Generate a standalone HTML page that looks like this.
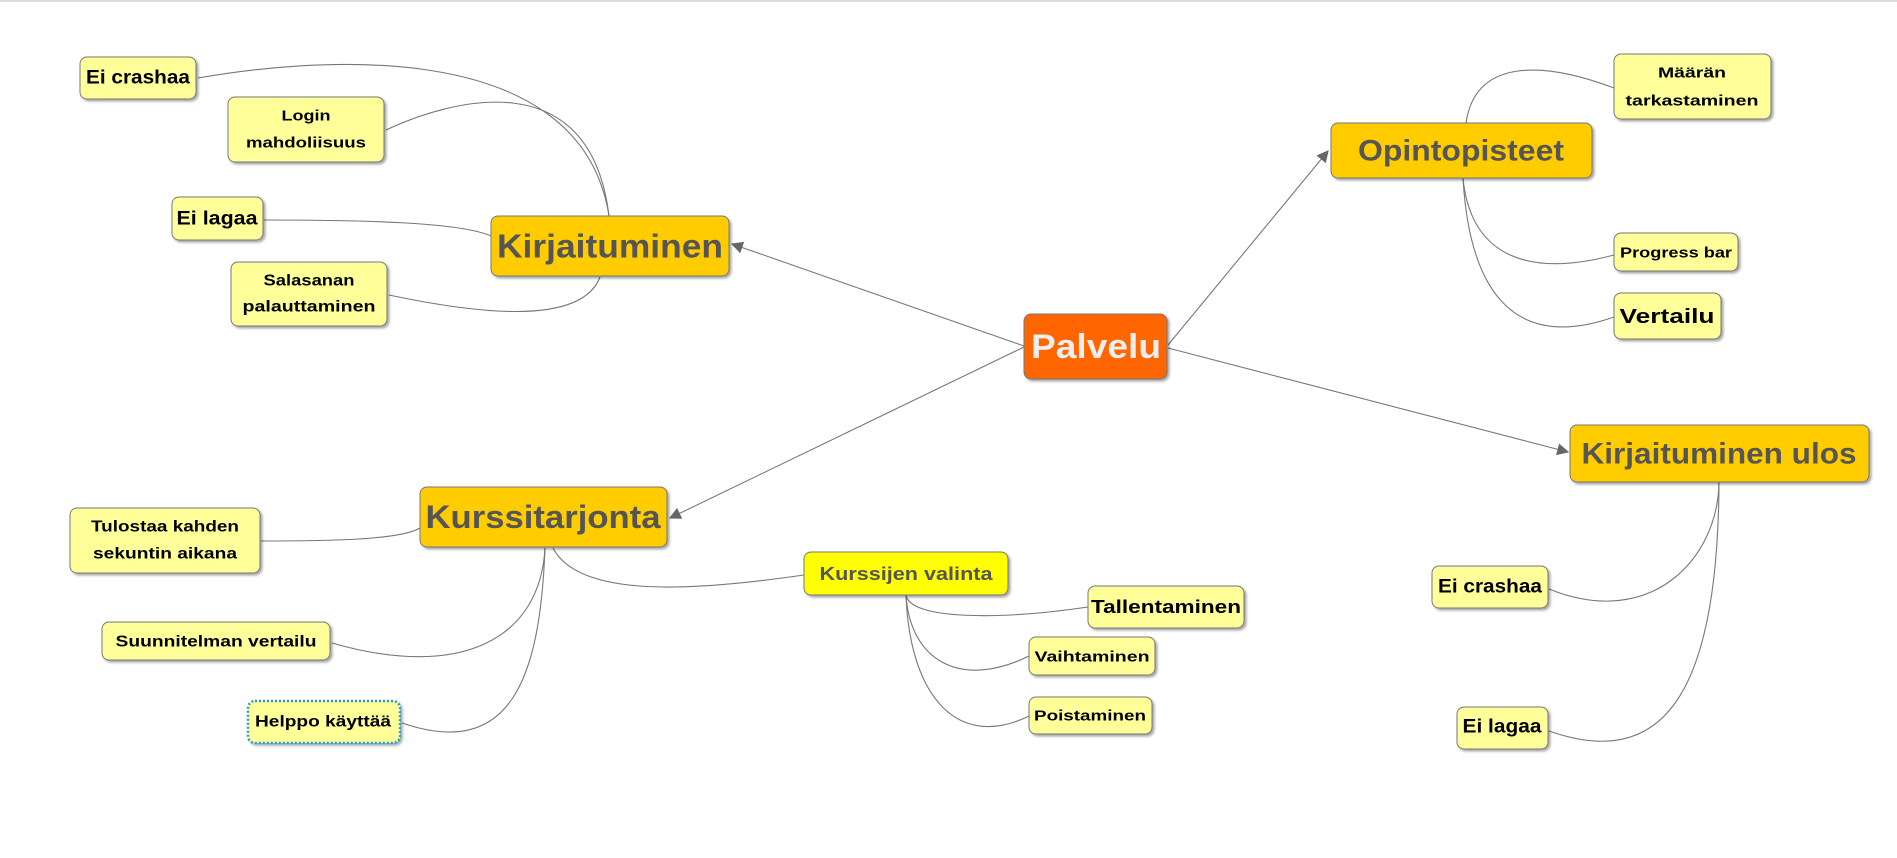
<!DOCTYPE html>
<html><head><meta charset="utf-8"><style>
html,body{margin:0;padding:0;background:#fff;}
svg{display:block;}
text{font-family:"Liberation Sans",sans-serif;font-weight:bold;}
</style></head><body>
<svg width="1897" height="858" viewBox="0 0 1897 858" xmlns="http://www.w3.org/2000/svg">
<defs>
<filter id="sh" x="-10%" y="-10%" width="130%" height="140%"><feDropShadow dx="2" dy="2" stdDeviation="1.2" flood-color="#000" flood-opacity="0.35"/></filter>
<marker id="ar" viewBox="0 0 10 10" refX="9" refY="5" markerWidth="12" markerHeight="12" markerUnits="userSpaceOnUse" orient="auto"><path d="M0,0 L10,5 L0,10 z" fill="#666"/></marker>
</defs>
<rect x="0" y="0" width="1897" height="2" fill="#ddd"/>
<g fill="none" stroke="#777" stroke-width="1.1">
<!-- main arrows -->
<path d="M1024,346 L732,244" marker-end="url(#ar)"/>
<path d="M1024,347 L670,518" marker-end="url(#ar)"/>
<path d="M1168,345 L1328,151" marker-end="url(#ar)"/>
<path d="M1168,348 L1568,452" marker-end="url(#ar)"/>
<!-- Kirjaituminen -->
<path d="M198,78 C300,60 580,30 609,216"/>
<path d="M386,130 C450,100 590,60 609,216"/>
<path d="M264,220 C360,220 460,222 491,236"/>
<path d="M389,295 C460,310 580,330 600,277"/>
<!-- Opintopisteet -->
<path d="M1466,123 C1475,60 1540,60 1614,88"/>
<path d="M1463,178 C1470,250 1520,280 1614,255"/>
<path d="M1463,178 C1470,300 1520,350 1614,317"/>
<!-- Kurssitarjonta -->
<path d="M420,528 C400,540 330,541 261,541"/>
<path d="M545,548 C540,640 460,680 332,643"/>
<path d="M545,548 C540,680 510,760 402,723"/>
<path d="M553,548 C580,600 700,590 804,575"/>
<!-- Kurssijen valinta -->
<path d="M906,595 C910,620 1000,620 1088,607"/>
<path d="M906,595 C910,660 960,690 1029,656"/>
<path d="M906,595 C910,700 960,750 1029,716"/>
<!-- Kirjaituminen ulos -->
<path d="M1719,482 C1718,560 1650,630 1549,589"/>
<path d="M1719,482 C1718,700 1660,770 1549,731"/>
</g>
<g filter="url(#sh)" stroke="#777" stroke-width="1">
<rect x="80" y="57" width="116" height="42" rx="7" fill="#ffff99"/>
<rect x="228" y="97" width="156" height="65" rx="7" fill="#ffff99"/>
<rect x="172" y="197" width="91" height="43" rx="7" fill="#ffff99"/>
<rect x="231" y="262" width="156" height="64" rx="7" fill="#ffff99"/>
<rect x="491" y="216" width="238" height="60" rx="7" fill="#ffcc00"/>
<rect x="1024" y="314" width="143" height="65" rx="7" fill="#ff6600"/>
<rect x="1331" y="123" width="261" height="55" rx="7" fill="#ffcc00"/>
<rect x="1614" y="54" width="157" height="65" rx="7" fill="#ffff99"/>
<rect x="1614" y="233" width="124" height="38" rx="7" fill="#ffff99"/>
<rect x="1614" y="293" width="107" height="46" rx="7" fill="#ffff99"/>
<rect x="420" y="487" width="247" height="60" rx="7" fill="#ffcc00"/>
<rect x="70" y="508" width="190" height="65" rx="7" fill="#ffff99"/>
<rect x="102" y="622" width="228" height="38" rx="7" fill="#ffff99"/>
<rect x="804" y="552" width="204" height="43" rx="7" fill="#ffff00"/>
<rect x="1570" y="425" width="299" height="57" rx="7" fill="#ffcc00"/>
<rect x="1088" y="586" width="156" height="42" rx="7" fill="#ffff99"/>
<rect x="1029" y="637" width="126" height="38" rx="7" fill="#ffff99"/>
<rect x="1029" y="697" width="123" height="37" rx="7" fill="#ffff99"/>
<rect x="1432" y="566" width="116" height="42" rx="7" fill="#ffff99"/>
<rect x="1457" y="707" width="91" height="42" rx="7" fill="#ffff99"/>
</g>
<rect x="248" y="701" width="152" height="42" rx="7" fill="#ffff99" stroke="#1b9fd8" stroke-width="2.5" stroke-dasharray="2,2" filter="url(#sh)"/>
<g fill="#000" text-anchor="middle" dominant-baseline="central">
<text x="138" y="78" font-size="19" textLength="104" lengthAdjust="spacingAndGlyphs">Ei crashaa</text>
<text x="306" y="116" font-size="15" textLength="49" lengthAdjust="spacingAndGlyphs">Login</text>
<text x="306" y="143" font-size="15" textLength="120" lengthAdjust="spacingAndGlyphs">mahdoliisuus</text>
<text x="217" y="219" font-size="19" textLength="81" lengthAdjust="spacingAndGlyphs">Ei lagaa</text>
<text x="309" y="281" font-size="16" textLength="91" lengthAdjust="spacingAndGlyphs">Salasanan</text>
<text x="309" y="307" font-size="16" textLength="133" lengthAdjust="spacingAndGlyphs">palauttaminen</text>
<text x="610" y="246" font-size="33" fill="#555" textLength="226" lengthAdjust="spacingAndGlyphs">Kirjaituminen</text>
<text x="1096" y="347" font-size="34" fill="#eee" textLength="130" lengthAdjust="spacingAndGlyphs">Palvelu</text>
<text x="1461" y="151" font-size="30" fill="#555" textLength="206" lengthAdjust="spacingAndGlyphs">Opintopisteet</text>
<text x="1692" y="73" font-size="15" textLength="68" lengthAdjust="spacingAndGlyphs">Määrän</text>
<text x="1692" y="101" font-size="15" textLength="133" lengthAdjust="spacingAndGlyphs">tarkastaminen</text>
<text x="1676" y="253" font-size="15" textLength="112" lengthAdjust="spacingAndGlyphs">Progress bar</text>
<text x="1667" y="317" font-size="20" textLength="95" lengthAdjust="spacingAndGlyphs">Vertailu</text>
<text x="543" y="517" font-size="32" fill="#555" textLength="235" lengthAdjust="spacingAndGlyphs">Kurssitarjonta</text>
<text x="165" y="527" font-size="16" textLength="148" lengthAdjust="spacingAndGlyphs">Tulostaa kahden</text>
<text x="165" y="554" font-size="16" textLength="144" lengthAdjust="spacingAndGlyphs">sekuntin aikana</text>
<text x="216" y="642" font-size="16" textLength="201" lengthAdjust="spacingAndGlyphs">Suunnitelman vertailu</text>
<text x="323" y="722" font-size="16" textLength="136" lengthAdjust="spacingAndGlyphs">Helppo käyttää</text>
<text x="906" y="574" font-size="18" fill="#555" textLength="173" lengthAdjust="spacingAndGlyphs">Kurssijen valinta</text>
<text x="1719" y="454" font-size="30" fill="#555" textLength="275" lengthAdjust="spacingAndGlyphs">Kirjaituminen ulos</text>
<text x="1166" y="607" font-size="18" textLength="150" lengthAdjust="spacingAndGlyphs">Tallentaminen</text>
<text x="1092" y="657" font-size="15" textLength="115" lengthAdjust="spacingAndGlyphs">Vaihtaminen</text>
<text x="1090" y="716" font-size="15" textLength="112" lengthAdjust="spacingAndGlyphs">Poistaminen</text>
<text x="1490" y="587" font-size="19" textLength="104" lengthAdjust="spacingAndGlyphs">Ei crashaa</text>
<text x="1502" y="727" font-size="19" textLength="79" lengthAdjust="spacingAndGlyphs">Ei lagaa</text>
</g>
</svg>
</body></html>
